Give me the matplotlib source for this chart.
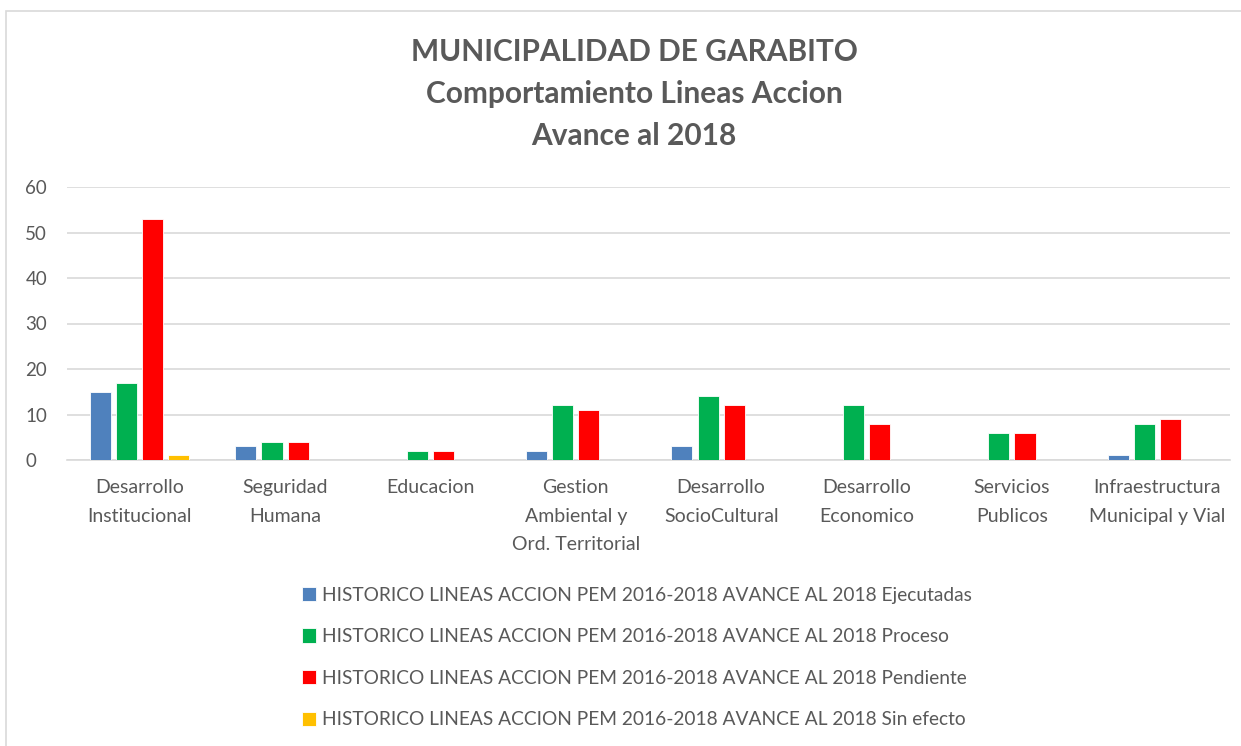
import numpy as np
import matplotlib.pyplot as plt
from matplotlib.patches import Rectangle

plt.rcParams['font.family'] = ['Lato', 'DejaVu Sans']

# datos
categorias = ["Desarrollo\nInstitucional", "Seguridad\nHumana", "Educacion",
              "Gestion\nAmbiental y\nOrd. Territorial", "Desarrollo\nSocioCultural",
              "Desarrollo\nEconomico", "Servicios\nPublicos", "Infraestructura\nMunicipal y Vial"]
ejecutadas = [15, 3, 0, 2, 3, 0, 0, 1]
proceso = [17, 4, 2, 12, 14, 12, 6, 8]
pendiente = [53, 4, 2, 11, 12, 8, 6, 9]
sin_efecto = [1, 0, 0, 0, 0, 0, 0, 0]

prefijo = "HISTORICO LINEAS ACCION PEM 2016-2018 AVANCE AL 2018 "
series = [(ejecutadas, "Ejecutadas", "#4f81bd"),
          (proceso, "Proceso", "#00b050"),
          (pendiente, "Pendiente", "#ff0000"),
          (sin_efecto, "Sin efecto", "#ffc000")]

gris = "#595959"

fig = plt.figure(figsize=(12.41, 7.46), dpi=100)
ax = fig.add_axes([67/1241, 1 - 460/746, (1230-67)/1241, 273/746])

x = np.arange(len(categorias))
slot = 0.18
ancho = 0.145
for i, (vals, nombre, color) in enumerate(series):
    ax.bar(x + (i - 1.5) * slot, vals, width=ancho, color=color,
           edgecolor="white", linewidth=0.6, label=prefijo + nombre, zorder=3)

ax.set_xlim(-0.5, len(categorias) - 0.5)
ax.set_ylim(0, 60)
ax.set_yticks(range(0, 61, 10))
ax.grid(axis="y", color="#d9d9d9", linewidth=1.2, zorder=0)
for s in ["top", "right", "left"]:
    ax.spines[s].set_visible(False)
ax.spines["bottom"].set_color("#d9d9d9")
ax.spines["bottom"].set_linewidth(1.2)
ax.tick_params(length=0, colors=gris)
ax.tick_params(axis="y", pad=30, labelsize=13.5)
ax.tick_params(axis="x", pad=14, labelsize=14)
ax.set_xticks(x)
ax.set_xticklabels(categorias, linespacing=1.8)
for t in ax.get_yticklabels():
    t.set_horizontalalignment("left")

fig.text(0.511, 1 - 94/746, "MUNICIPALIDAD DE GARABITO\nComportamiento Lineas Accion\nAvance al 2018",
         ha="center", va="center", fontsize=21.5, fontweight="bold", color=gris,
         linespacing=1.6)

fig.legend(loc="upper left", bbox_to_anchor=(294/1241, 1 - 579/746), frameon=False,
           fontsize=13.8, labelcolor=gris, handlelength=0.75, handleheight=0.75,
           handletextpad=0.3, labelspacing=1.28, borderaxespad=0)

fig.patches.append(Rectangle((6/1241, -0.1), 1.1, 1 - 11/746 + 0.1, transform=fig.transFigure,
                             fill=False, edgecolor="#d9d9d9", linewidth=1.2))

fig.savefig("out.png", dpi=100)
